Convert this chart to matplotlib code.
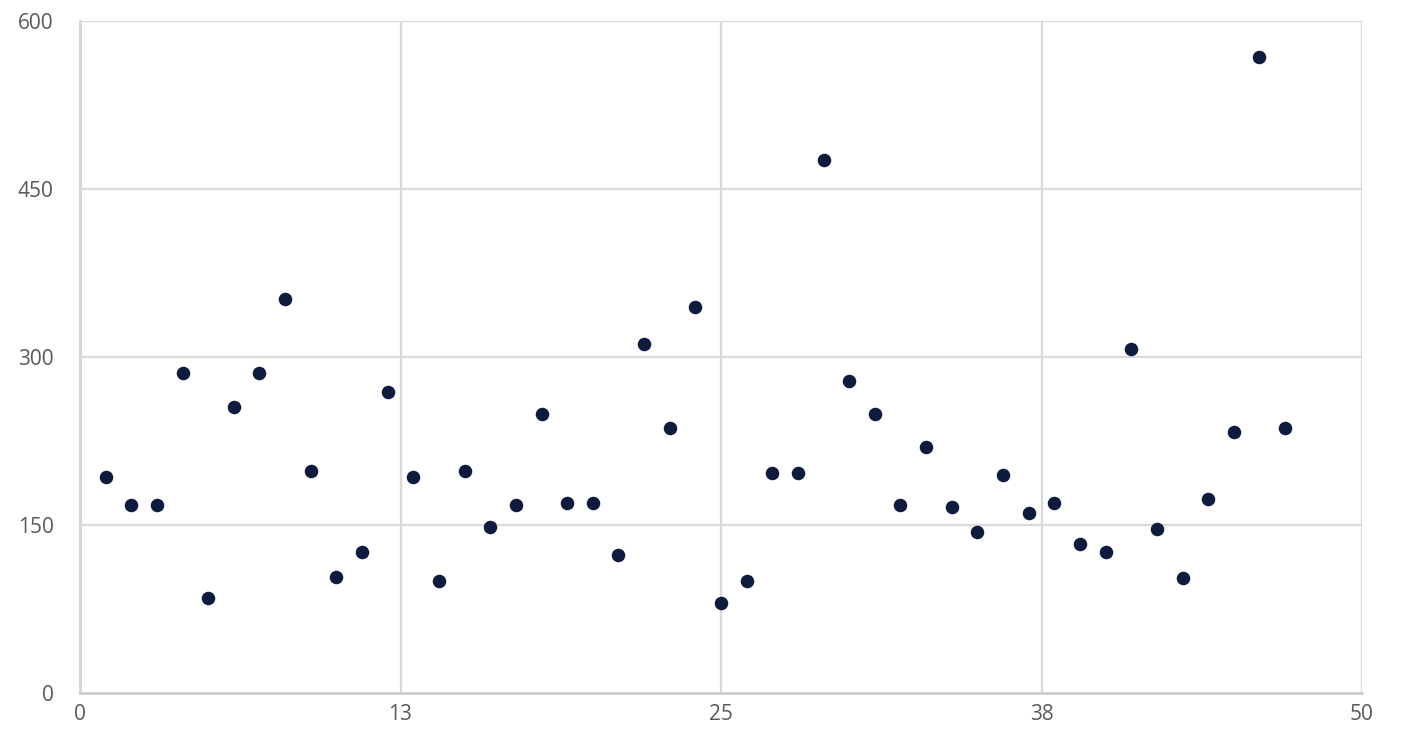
import numpy as np
import matplotlib
import matplotlib.pyplot as plt

matplotlib.rcParams['font.family'] = ['Open Sans', 'DejaVu Sans']

# data
x_vals = list(range(1, 48))
y_vals = [193, 168, 168, 286, 85, 255, 286, 352, 198, 104,
          126, 269, 193, 100, 198, 148, 168, 249, 170, 170,
          123, 312, 237, 345, 80, 100, 196, 196, 476, 279,
          249, 168, 220, 166, 144, 195, 161, 170, 133, 126,
          307, 146, 103, 173, 233, 568, 237]
x_ticks = [0, 12.5, 25, 37.5, 50]
x_tick_labels = ["0", "13", "25", "38", "50"]
y_ticks = [0, 150, 300, 450, 600]

grid_color = "#d9d9d9"
text_color = "#595959"
dot_color = "#0d1b3e"

fig = plt.figure(figsize=(14.14, 7.4), dpi=100)
ax = fig.add_axes([80 / 1414, 47 / 740, 1282 / 1414, 672 / 740])

ax.scatter(x_vals, y_vals, s=95, color=dot_color, zorder=3, linewidths=0)

ax.set_xlim(0, 50)
ax.set_ylim(0, 600)
ax.set_xticks(x_ticks)
ax.set_xticklabels(x_tick_labels)
ax.set_yticks(y_ticks)

ax.grid(True, color=grid_color, linewidth=1.6, zorder=0)
for side in ["top", "right"]:
    ax.spines[side].set_visible(False)
for side in ["left", "bottom"]:
    ax.spines[side].set_color("#c8c8c8")
    ax.spines[side].set_linewidth(1.8)
    ax.spines[side].set_zorder(1)

ax.tick_params(axis="both", length=0, labelsize=15, labelcolor=text_color)
ax.tick_params(axis="x", pad=8)
ax.tick_params(axis="y", pad=19)

fig.savefig("out.png", dpi=100)
